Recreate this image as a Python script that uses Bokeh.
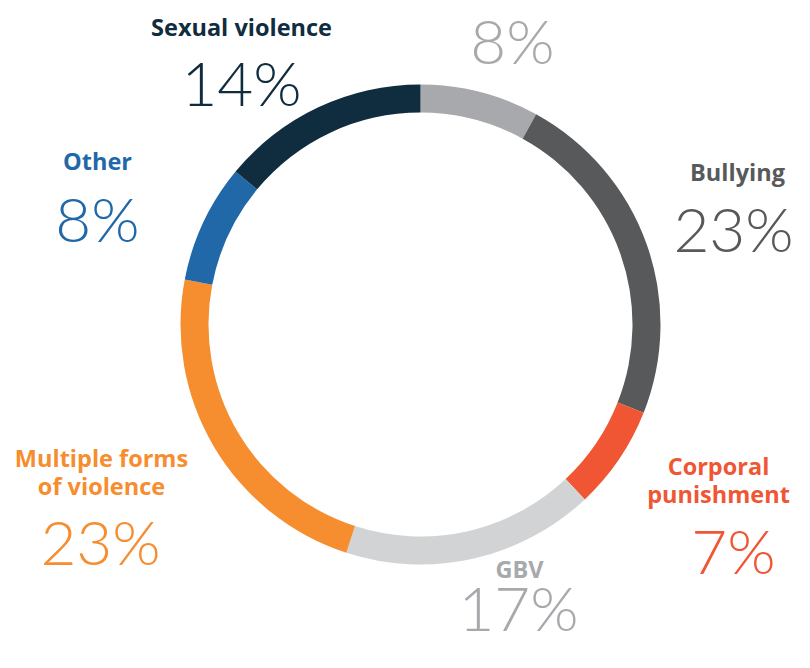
import math
from bokeh.plotting import figure
from bokeh.models import Range1d, ColumnDataSource
from bokeh.core.properties import value
from bokeh.embed import file_html
from bokeh.resources import INLINE

# ---- data ----
categories = ["", "Bullying", "Corporal\npunishment", "GBV",
              "Multiple forms\nof violence", "Other", "Sexual violence"]
shares = [8, 23, 7, 17, 23, 8, 14]
colors = ["#A7A9AC", "#58595B", "#F05633", "#D1D3D4", "#F68D2E", "#2068A8", "#102C3F"]
text_colors = ["#A7A9AC", "#58595B", "#F05633", "#A7A9AC", "#F68D2E", "#2068A8", "#102C3F"]

# ---- layout (pixel coordinates; y measured from top) ----
W, H = 794, 652
cx, cy = 420, 324
r_out, r_in = 240, 212
name_pos = [None, (737, 171), (718, 479), (519, 568), (101, 471), (97, 160), (241, 26)]
pct_pos = [(512, 39), (733, 227), (733, 549), (518, 606), (100, 540), (97, 217), (241, 81)]


def Y(y):
    return H - y


p = figure(width=W, height=H, output_backend="svg", toolbar_location=None,
           x_range=Range1d(0, W), y_range=Range1d(0, H), min_border=0)
p.axis.visible = False
p.grid.visible = False
p.outline_line_color = None
p.background_fill_color = "white"
p.border_fill_color = "white"

total = sum(shares)
starts, ends = [], []
c = 0
for s in shares:
    a0 = math.pi / 2 - 2 * math.pi * c / total
    c += s
    a1 = math.pi / 2 - 2 * math.pi * c / total
    starts.append(a1)
    ends.append(a0)

src = ColumnDataSource(dict(x=[cx] * len(shares), y=[Y(cy)] * len(shares),
                            start=starts, end=ends, color=colors))
p.annular_wedge(x="x", y="y", inner_radius=r_in, outer_radius=r_out,
                start_angle="start", end_angle="end", fill_color="color",
                line_color=None, source=src)

# names
nx, ny, nt, nc = [], [], [], []
for cat, pos, col in zip(categories, name_pos, text_colors):
    if pos is None or not cat:
        continue
    lines = cat.split("\n")
    lh = 28
    y0 = pos[1] - (len(lines) - 1) * lh / 2
    for i, ln in enumerate(lines):
        nx.append(pos[0]); ny.append(Y(y0 + i * lh)); nt.append(ln); nc.append(col)
p.text(x=nx, y=ny, text=nt, text_color=nc, text_align="center",
       text_baseline="middle", text_font=value("Open Sans"),
       text_font_style="bold", text_font_size="23.5px")

# percentages
px = [pp[0] for pp in pct_pos]
py = [Y(pp[1]) for pp in pct_pos]
pt = [f"{s}%" for s in shares]
p.text(x=px, y=py, text=pt, text_color=text_colors, text_align="center",
       text_baseline="middle", text_font=value("Lato Light"),
       text_font_size="62px")

open("out.html", "w").write(file_html(p, INLINE))
